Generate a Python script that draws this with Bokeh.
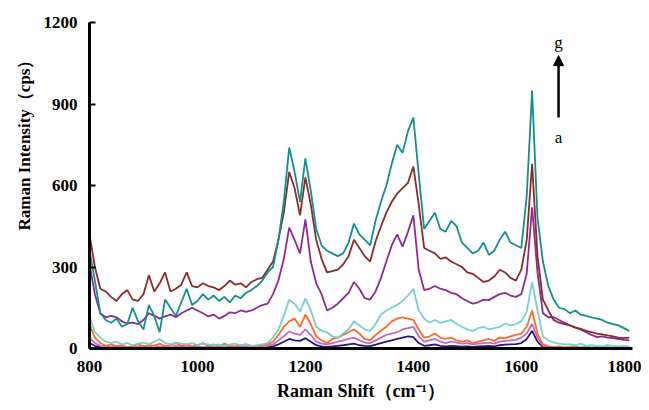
from bokeh.plotting import figure
from bokeh.models import Range1d, FixedTicker, Label, Arrow, NormalHead, Title
from bokeh.embed import file_html
from bokeh.resources import INLINE

# Raman shift (cm-1)
shift = list(range(800, 1810, 10))

# series a (lowest) ... g (highest)
a_vals = [20, 10, 5, 3, 4, 2, 5, 3, 4, 2,
          3, 5, 2, 4, 3, 2, 4, 3, 2, 4,
          3, 2, 4, 3, 2, 3, 5, 2, 4, 3,
          2, 4, 3, 5, 8, 15, 25, 35, 30, 28,
          38, 25, 12, 8, 6, 8, 10, 12, 15, 18,
          12, 10, 9, 14, 20, 25, 30, 35, 40, 45,
          42, 20, 10, 12, 15, 10, 8, 10, 9, 7,
          8, 6, 8, 9, 10, 8, 12, 14, 15, 16,
          20, 35, 65, 25, 5, 3, 2, 3, 2, 3,
          2, 3, 2, 1, 2, 3, 2, 1, 2, 3, 2]
b_vals = [40, 20, 10, 8, 5, 10, 6, 4, 8, 5,
          10, 6, 12, 5, 8, 4, 10, 6, 8, 5,
          7, 4, 9, 6, 5, 8, 4, 6, 5, 8,
          5, 6, 8, 10, 15, 30, 45, 62, 55, 50,
          70, 50, 25, 18, 15, 20, 25, 30, 35, 40,
          30, 22, 20, 30, 40, 50, 55, 60, 70, 75,
          80, 45, 25, 30, 35, 25, 20, 25, 22, 18,
          20, 15, 18, 20, 22, 18, 25, 28, 30, 32,
          40, 55, 90, 40, 10, 6, 4, 5, 3, 4,
          5, 3, 4, 2, 3, 4, 2, 3, 4, 2, 3]
c_vals = [90, 40, 20, 10, 15, 8, 12, 5, 10, 15,
          8, 12, 10, 18, 8, 12, 20, 10, 15, 8,
          12, 20, 10, 15, 8, 18, 10, 8, 12, 15,
          10, 8, 12, 15, 25, 50, 80, 100, 110, 80,
          125, 90, 45, 30, 20, 35, 40, 50, 60, 70,
          55, 35, 30, 50, 65, 80, 100, 110, 115, 110,
          105, 70, 40, 45, 55, 40, 35, 40, 30, 25,
          30, 20, 25, 30, 35, 28, 40, 38, 45, 50,
          55, 80, 140, 55, 15, 8, 5, 8, 3, 5,
          8, 3, 5, 2, 6, 3, 5, 2, 6, 4, 5]
d_vals = [120, 60, 40, 25, 20, 25, 15, 20, 12, 18,
          22, 15, 25, 35, 20, 15, 22, 18, 15, 20,
          12, 18, 15, 12, 15, 10, 15, 18, 12, 15,
          10, 12, 15, 20, 40, 70, 120, 180, 165, 135,
          185, 140, 80, 65, 60, 45, 40, 55, 70, 100,
          85, 70, 65, 90, 125, 140, 150, 160, 175, 195,
          220, 140, 110, 95, 105, 95, 100, 105, 90, 80,
          70, 65, 75, 80, 70, 75, 80, 92, 85, 90,
          100, 135, 245, 140, 45, 30, 22, 18, 15, 15,
          12, 18, 10, 12, 10, 8, 12, 10, 8, 10, 8]
e_vals = [310, 200, 130, 115, 120, 115, 100, 92, 95, 90,
          105, 130, 120, 110, 118, 125, 115, 130, 140, 150,
          140, 130, 118, 125, 110, 120, 133, 130, 140, 135,
          140, 150, 160, 165, 200, 250, 330, 445, 400, 350,
          475, 320, 240, 200, 140, 150, 165, 185, 205, 245,
          220, 185, 180, 210, 260, 320, 380, 420, 375, 430,
          490, 290, 215, 220, 230, 220, 215, 205, 200, 185,
          175, 165, 170, 180, 178, 190, 200, 205, 195, 190,
          200, 275, 520, 280, 130, 115, 115, 105, 95, 85,
          77, 70, 60, 50, 42, 45, 40, 38, 35, 32, 30]
f_vals = [420, 300, 220, 210, 190, 175, 200, 215, 180, 175,
          200, 270, 210, 240, 280, 210, 220, 235, 280, 230,
          225, 240, 230, 225, 215, 230, 250, 235, 240, 225,
          245, 255, 260, 290, 320, 400, 500, 650, 590, 490,
          630, 530, 400, 330, 280, 285, 290, 310, 340, 400,
          370, 340, 320, 395, 450, 500, 540, 570, 590, 610,
          670, 530, 370, 360, 350, 330, 335, 320, 310, 300,
          280, 275, 260, 245, 250, 265, 290, 280, 260, 250,
          290, 400, 680, 340, 180, 140, 105, 95, 90, 85,
          78, 72, 65, 60, 55, 52, 48, 45, 40, 38, 40]
g_vals = [360, 250, 130, 105, 95, 110, 80, 90, 150, 100,
          70, 160, 120, 60, 180, 150, 120, 170, 220, 160,
          175, 200, 180, 195, 175, 190, 170, 195, 185, 205,
          215, 230, 250, 280, 300, 400, 540, 740, 650, 540,
          700, 580, 440, 380, 360, 350, 340, 350, 390, 460,
          420, 400, 380, 470, 540, 600, 680, 750, 720, 800,
          850, 640, 440, 470, 500, 440, 430, 470, 450, 390,
          370, 350, 360, 390, 345, 360, 400, 430, 390, 380,
          370, 560, 950, 480, 320, 230, 180, 150, 145, 130,
          140, 125, 120, 115, 110, 105, 95, 90, 85, 75, 65]

series = [
    (a_vals, "#2b1a7e"),
    (b_vals, "#c46ac6"),
    (c_vals, "#ff6a2c"),
    (d_vals, "#78cfcf"),
    (e_vals, "#8e2a90"),
    (f_vals, "#8c2b2b"),
    (g_vals, "#138f8c"),
]

y_ticks = [0, 300, 600, 900, 1200]
x_ticks = [800, 1000, 1200, 1400, 1600, 1800]

p = figure(width=641, height=410, output_backend="svg", toolbar_location=None,
           x_range=Range1d(800, 1806), y_range=Range1d(0, 1200),
           min_border_left=89, min_border_right=9, min_border_top=22,
           min_border_bottom=62)
p.outline_line_color = None
p.grid.visible = False
p.background_fill_color = "white"
p.border_fill_color = "white"

for vals, col in series:
    p.line(shift, vals, line_color=col, line_width=1.8)

SERIF = "Liberation Serif"

p.yaxis.ticker = FixedTicker(ticks=y_ticks)
p.xaxis.ticker = FixedTicker(ticks=x_ticks)
for ax in (p.xaxis[0], p.yaxis[0]):
    ax.axis_line_width = 3
    ax.axis_line_color = "black"
    ax.minor_tick_line_color = None
    ax.major_label_text_font = SERIF
    ax.major_label_text_font_style = "bold"
    ax.major_label_text_font_size = "17px"
    ax.major_label_text_color = "black"
p.yaxis.major_tick_in = 6
p.yaxis.major_tick_out = 0
p.yaxis.major_tick_line_width = 2
p.yaxis.major_label_standoff = 12
p.xaxis.major_tick_in = 0
p.xaxis.major_tick_out = 0
p.xaxis.major_label_standoff = 12

p.xaxis.axis_label = "Raman Shift（cm⁻¹）"
p.xaxis.axis_label_text_font = SERIF
p.xaxis.axis_label_text_font_style = "bold"
p.xaxis.axis_label_text_font_size = "18px"
p.xaxis.axis_label_text_color = "black"
p.xaxis.axis_label_standoff = 6

p.add_layout(Title(text="Raman Intensity（cps）", align="left", offset=118,
                   standoff=14, text_font=SERIF, text_font_style="bold",
                   text_font_size="17px", text_color="black"), "left")

p.add_layout(Arrow(end=NormalHead(size=10, fill_color="black", line_color="black"),
                   x_start=1669, y_start=850, x_end=1669, y_end=1078,
                   line_width=2.5, line_color="black"))
p.add_layout(Label(x=1669, y=1126, text="g", text_align="center",
                   text_baseline="middle", text_font=SERIF,
                   text_font_size="17px", text_color="black"))
p.add_layout(Label(x=1669, y=777, text="a", text_align="center",
                   text_baseline="middle", text_font=SERIF,
                   text_font_size="17px", text_color="black"))

open("out.html", "w").write(file_html(p, INLINE))
